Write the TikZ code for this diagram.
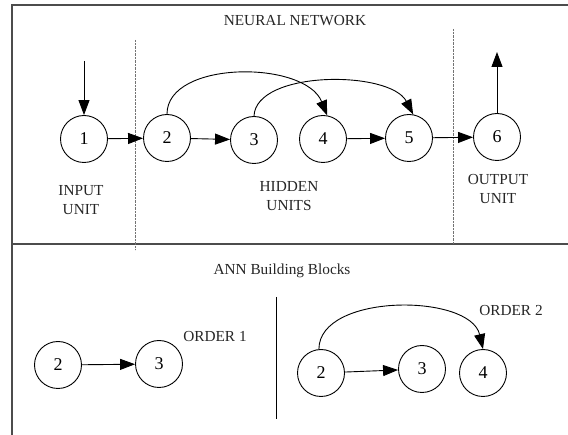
\documentclass[tikz,border=0pt]{standalone}
\usepackage{fontspec}
\setmainfont{Liberation Serif}
\usetikzlibrary{arrows.meta}

\begin{document}
\begin{tikzpicture}[
            x=1pt, y=-1pt,
            unit node/.style={circle,draw,line width=0.9pt,minimum size=47pt,inner sep=0pt,font=\fontsize{18}{20}\selectfont},
            label node/.style={align=center,text=black!85,font=\fontsize{15.3}{18.5}\selectfont},
            frame line/.style={draw=black!70,line width=1.8pt},
            zone line/.style={draw=black!55,line width=0.8pt,dash pattern=on 0.7pt off 0.7pt},
            conn/.style={line width=0.9pt,-{Triangle[length=15pt,width=11pt]}},
            ]
            \useasboundingbox (0,0) rectangle (568,435);

            % frame and separators
            \draw[frame line] (568,5) -- (12,5) -- (12,435);
            \draw[frame line,line width=2.4pt] (12,244) -- (568,244);
            \draw[zone line] (135,40) -- (135,250);
            \draw[zone line] (453,29) -- (453,244);

            \node[label node] (title) at (295,21) {NEURAL NETWORK};

            % network units
            \node[unit node] (1) at (84,139) {1};
            \node[unit node] (2) at (167,138) {2};
            \node[unit node] (3) at (254,140) {3};
            \node[unit node] (4) at (323,139) {4};
            \node[unit node] (5) at (409,138) {5};
            \node[unit node] (6) at (497,137) {6};

            \coordinate (in) at (84,61);
            \coordinate (out) at (497,52);

            \draw[conn] (in) -- (1);
            \draw[conn] (1) -- (2);
            \draw[conn] (2) -- (3);
            \draw[conn] (4) -- (5);
            \draw[conn] (5) -- (6);
            \draw[conn] (6) -- (out);
            \draw[conn] (2.north) .. controls (167,60) and (305,60) .. (4.80);
            \draw[conn] (3.north) .. controls (256,70) and (390,70) .. (5.80);

            \node[label node] (input) at (81,200) {INPUT\\UNIT};
            \node[label node] (hidden) at (289,196) {HIDDEN\\UNITS};
            \node[label node] (output) at (498,189) {OUTPUT\\UNIT};

            % building blocks
            \node[label node] (blocks) at (282,271) {ANN Building Blocks};
            \node[label node] (order1) at (215,337) {ORDER 1};
            \node[label node] (order2) at (511,311) {ORDER 2};
            \draw[line width=0.9pt] (276,297) -- (276,419);

            \node[unit node] (a2) at (58,365) {2};
            \node[unit node] (a3) at (159,364) {3};
            \draw[conn] (a2) -- (a3);

            \node[unit node] (b2) at (321,373) {2};
            \node[unit node] (b3) at (422,369) {3};
            \node[unit node] (b4) at (483,373) {4};
            \draw[conn] (b2) -- (b3);
            \draw[conn] (b2.95) .. controls (319,293) and (470,293) .. (b4.north);
        \end{tikzpicture}
\end{document}
